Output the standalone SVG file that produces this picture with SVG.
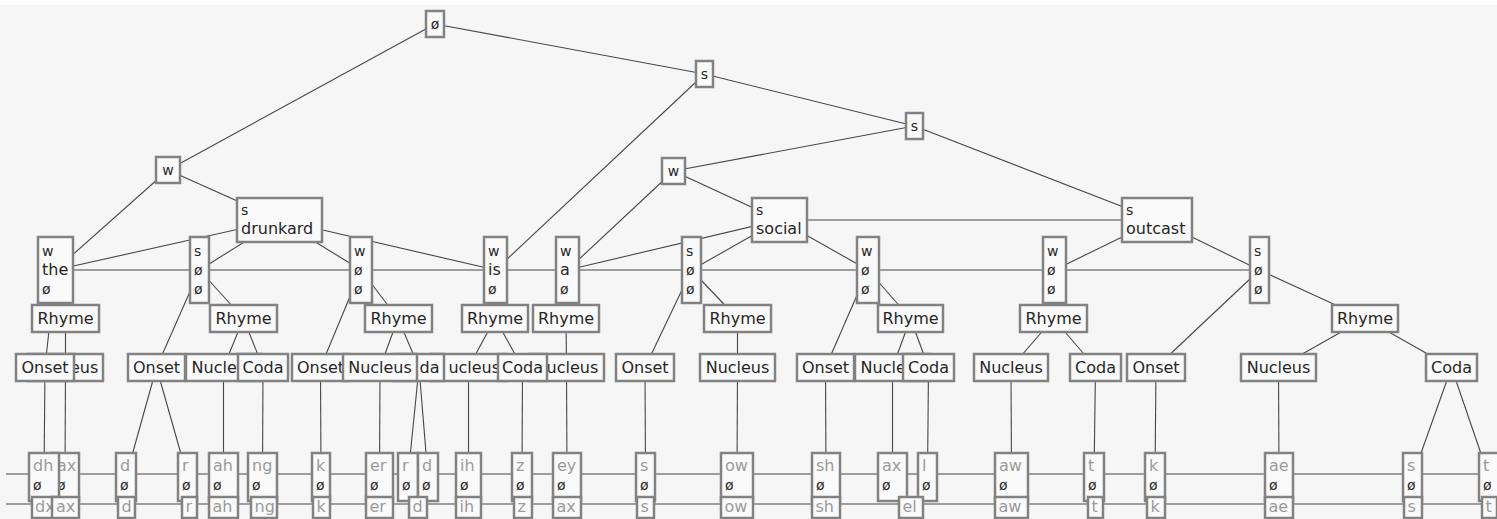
<svg xmlns="http://www.w3.org/2000/svg" width="1497" height="519" viewBox="0 0 1497 519">
<style>
.bx{fill:#fafafa;stroke:#828282;stroke-width:2.5}
.ln{stroke:#474747;stroke-width:1.1;fill:none}
.t{font-family:"DejaVu Sans",sans-serif;font-size:16px;fill:#262626}
.sm{font-size:14px}
.m{text-anchor:middle}
.p{fill:#9a9a9a}
</style>
<rect x="0" y="0" width="1497" height="519" fill="#f6f6f6"/>
<rect x="0" y="0" width="1497" height="5" fill="#ffffff"/>
<g id="connectors" class="ln">
<line x1="435" y1="24" x2="168" y2="170"/>
<line x1="435" y1="24" x2="704.5" y2="74"/>
<line x1="704.5" y1="74" x2="495.5" y2="270"/>
<line x1="704.5" y1="74" x2="914.5" y2="126"/>
<line x1="914.5" y1="126" x2="673.5" y2="171"/>
<line x1="914.5" y1="126" x2="1157" y2="220"/>
<line x1="168" y1="170" x2="55.5" y2="270"/>
<line x1="168" y1="170" x2="279.5" y2="220"/>
<line x1="673.5" y1="171" x2="567.5" y2="270"/>
<line x1="673.5" y1="171" x2="779.5" y2="220"/>
<line x1="55.5" y1="270" x2="279.5" y2="220"/>
<line x1="279.5" y1="220" x2="495.5" y2="270"/>
<line x1="567.5" y1="270" x2="779.5" y2="220"/>
<line x1="779.5" y1="220" x2="1157" y2="220"/>
<line x1="279.5" y1="220" x2="199.5" y2="270"/>
<line x1="279.5" y1="220" x2="361" y2="270"/>
<line x1="779.5" y1="220" x2="691.5" y2="270"/>
<line x1="779.5" y1="220" x2="868" y2="270"/>
<line x1="1157" y1="220" x2="1054.5" y2="270"/>
<line x1="1157" y1="220" x2="1259.5" y2="270"/>
<line x1="55.5" y1="270" x2="1259.5" y2="270"/>
<line x1="55.5" y1="270" x2="45" y2="367.5"/>
<line x1="55.5" y1="270" x2="65.5" y2="318.5"/>
<line x1="199.5" y1="270" x2="156.5" y2="367.5"/>
<line x1="199.5" y1="270" x2="243.5" y2="318.5"/>
<line x1="361" y1="270" x2="320.5" y2="367.5"/>
<line x1="361" y1="270" x2="398" y2="318.5"/>
<line x1="495.5" y1="270" x2="495" y2="318.5"/>
<line x1="567.5" y1="270" x2="566" y2="318.5"/>
<line x1="691.5" y1="270" x2="645" y2="367.5"/>
<line x1="691.5" y1="270" x2="737.5" y2="318.5"/>
<line x1="868" y1="270" x2="825.5" y2="367.5"/>
<line x1="868" y1="270" x2="910.5" y2="318.5"/>
<line x1="1054.5" y1="270" x2="1053.5" y2="318.5"/>
<line x1="1259.5" y1="270" x2="1156" y2="367.5"/>
<line x1="1259.5" y1="270" x2="1365" y2="318.5"/>
<line x1="65.5" y1="318.5" x2="65.5" y2="367.5"/>
<line x1="243.5" y1="318.5" x2="223.5" y2="367.5"/>
<line x1="243.5" y1="318.5" x2="263" y2="367.5"/>
<line x1="398" y1="318.5" x2="380" y2="367.5"/>
<line x1="398" y1="318.5" x2="419" y2="367.5"/>
<line x1="495" y1="318.5" x2="468.5" y2="367.5"/>
<line x1="495" y1="318.5" x2="522.5" y2="367.5"/>
<line x1="566" y1="318.5" x2="566.5" y2="367.5"/>
<line x1="737.5" y1="318.5" x2="737.5" y2="367.5"/>
<line x1="910.5" y1="318.5" x2="892.5" y2="367.5"/>
<line x1="910.5" y1="318.5" x2="928.5" y2="367.5"/>
<line x1="1053.5" y1="318.5" x2="1011" y2="367.5"/>
<line x1="1053.5" y1="318.5" x2="1095.5" y2="367.5"/>
<line x1="1365" y1="318.5" x2="1278.5" y2="367.5"/>
<line x1="1365" y1="318.5" x2="1451.5" y2="367.5"/>
<line x1="45" y1="367.5" x2="44" y2="477"/>
<line x1="65.5" y1="367.5" x2="65" y2="477"/>
<line x1="156.5" y1="367.5" x2="126" y2="477"/>
<line x1="156.5" y1="367.5" x2="187.5" y2="477"/>
<line x1="223.5" y1="367.5" x2="223.5" y2="477"/>
<line x1="263" y1="367.5" x2="262.5" y2="477"/>
<line x1="320.5" y1="367.5" x2="321" y2="477"/>
<line x1="380" y1="367.5" x2="379.5" y2="477"/>
<line x1="419" y1="367.5" x2="408" y2="477"/>
<line x1="419" y1="367.5" x2="428" y2="477"/>
<line x1="468.5" y1="367.5" x2="468.5" y2="477"/>
<line x1="522.5" y1="367.5" x2="522" y2="477"/>
<line x1="566.5" y1="367.5" x2="567" y2="477"/>
<line x1="645" y1="367.5" x2="645.5" y2="477"/>
<line x1="737.5" y1="367.5" x2="737" y2="477"/>
<line x1="825.5" y1="367.5" x2="826" y2="477"/>
<line x1="892.5" y1="367.5" x2="892.5" y2="477"/>
<line x1="928.5" y1="367.5" x2="927.5" y2="477"/>
<line x1="1011" y1="367.5" x2="1011.5" y2="477"/>
<line x1="1095.5" y1="367.5" x2="1094" y2="477"/>
<line x1="1156" y1="367.5" x2="1155" y2="477"/>
<line x1="1278.5" y1="367.5" x2="1279" y2="477"/>
<line x1="1451.5" y1="367.5" x2="1412.5" y2="477"/>
<line x1="1451.5" y1="367.5" x2="1489" y2="477"/>
<line x1="6" y1="474" x2="1497" y2="474"/>
<line x1="6" y1="504" x2="1497" y2="504"/>
</g>
<g id="root"><rect class="bx" x="426" y="11" width="18" height="26"/><text class="t sm m" x="435" y="29">ø</text></g>
<g id="s-top"><rect class="bx" x="696" y="61" width="17" height="26"/><text class="t sm m" x="704.5" y="79">s</text></g>
<g id="s-right"><rect class="bx" x="906" y="113" width="17" height="26"/><text class="t sm m" x="914.5" y="131">s</text></g>
<g id="w-left"><rect class="bx" x="156" y="157" width="24" height="26"/><text class="t sm m" x="168" y="175">w</text></g>
<g id="w-mid"><rect class="bx" x="662" y="158" width="23" height="26"/><text class="t sm m" x="673.5" y="176">w</text></g>
<g id="word-drunkard"><rect class="bx" x="237" y="198" width="85" height="44"/><text class="t sm" x="241" y="215">s</text><text class="t" x="241" y="234">drunkard</text></g>
<g id="word-social"><rect class="bx" x="752" y="198" width="55" height="44"/><text class="t sm" x="756" y="215">s</text><text class="t" x="756" y="234">social</text></g>
<g id="word-outcast"><rect class="bx" x="1122" y="198" width="70" height="44"/><text class="t sm" x="1126" y="215">s</text><text class="t" x="1126" y="234">outcast</text></g>
<g id="syl-the"><rect class="bx" x="38" y="237" width="35" height="66"/><text class="t sm" x="42" y="256">w</text><text class="t" x="42" y="275">the</text><text class="t sm" x="42" y="294">ø</text></g>
<g id="syl-drunk"><rect class="bx" x="190" y="237" width="19" height="66"/><text class="t sm" x="194" y="256">s</text><text class="t sm" x="194" y="275">ø</text><text class="t sm" x="194" y="294">ø</text></g>
<g id="syl-ard"><rect class="bx" x="350" y="237" width="22" height="66"/><text class="t sm" x="354" y="256">w</text><text class="t sm" x="354" y="275">ø</text><text class="t sm" x="354" y="294">ø</text></g>
<g id="syl-is"><rect class="bx" x="484" y="237" width="23" height="66"/><text class="t sm" x="488" y="256">w</text><text class="t" x="488" y="275">is</text><text class="t sm" x="488" y="294">ø</text></g>
<g id="syl-a"><rect class="bx" x="556" y="237" width="23" height="66"/><text class="t sm" x="560" y="256">w</text><text class="t" x="560" y="275">a</text><text class="t sm" x="560" y="294">ø</text></g>
<g id="syl-so"><rect class="bx" x="682" y="237" width="19" height="66"/><text class="t sm" x="686" y="256">s</text><text class="t sm" x="686" y="275">ø</text><text class="t sm" x="686" y="294">ø</text></g>
<g id="syl-cial"><rect class="bx" x="857" y="237" width="22" height="66"/><text class="t sm" x="861" y="256">w</text><text class="t sm" x="861" y="275">ø</text><text class="t sm" x="861" y="294">ø</text></g>
<g id="syl-out"><rect class="bx" x="1043" y="237" width="23" height="66"/><text class="t sm" x="1047" y="256">w</text><text class="t sm" x="1047" y="275">ø</text><text class="t sm" x="1047" y="294">ø</text></g>
<g id="syl-cast"><rect class="bx" x="1250" y="237" width="19" height="66"/><text class="t sm" x="1254" y="256">s</text><text class="t sm" x="1254" y="275">ø</text><text class="t sm" x="1254" y="294">ø</text></g>
<g id="rhyme-the"><rect class="bx" x="32" y="305" width="67" height="27"/><text class="t m" x="65.5" y="324">Rhyme</text></g>
<g id="rhyme-drunk"><rect class="bx" x="210" y="305" width="67" height="27"/><text class="t m" x="243.5" y="324">Rhyme</text></g>
<g id="rhyme-ard"><rect class="bx" x="365" y="305" width="67" height="27"/><text class="t m" x="398.5" y="324">Rhyme</text></g>
<g id="rhyme-is"><rect class="bx" x="462" y="305" width="66" height="27"/><text class="t m" x="495" y="324">Rhyme</text></g>
<g id="rhyme-a"><rect class="bx" x="533" y="305" width="66" height="27"/><text class="t m" x="566" y="324">Rhyme</text></g>
<g id="rhyme-so"><rect class="bx" x="704" y="305" width="67" height="27"/><text class="t m" x="737.5" y="324">Rhyme</text></g>
<g id="rhyme-cial"><rect class="bx" x="878" y="305" width="65" height="27"/><text class="t m" x="910.5" y="324">Rhyme</text></g>
<g id="rhyme-out"><rect class="bx" x="1020" y="305" width="67" height="27"/><text class="t m" x="1053.5" y="324">Rhyme</text></g>
<g id="rhyme-cast"><rect class="bx" x="1332" y="305" width="66" height="27"/><text class="t m" x="1365" y="324">Rhyme</text></g>
<g id="nuc-the"><rect class="bx" x="28" y="354" width="75" height="27"/><text class="t" x="70" y="373">eus</text></g>
<g id="ons-the"><rect class="bx" x="16" y="354" width="58" height="27"/><text class="t m" x="45" y="373">Onset</text></g>
<g id="ons-drunk"><rect class="bx" x="128" y="354" width="57" height="27"/><text class="t m" x="156.5" y="373">Onset</text></g>
<g id="nuc-drunk"><rect class="bx" x="186" y="354" width="75" height="27"/><text class="t" x="191.6" y="373">Nucle</text></g>
<g id="coda-drunk"><rect class="bx" x="238" y="354" width="50" height="27"/><text class="t m" x="263" y="373">Coda</text></g>
<g id="ons-ard"><rect class="bx" x="292" y="354" width="57" height="27"/><text class="t m" x="320.5" y="373">Onset</text></g>
<g id="nuc-a"><rect class="bx" x="529" y="354" width="75" height="27"/><text class="t" x="546.6" y="373">ucleus</text></g>
<g id="nuc-is"><rect class="bx" x="431" y="354" width="75" height="27"/><text class="t" x="448.4" y="373">ucleus</text></g>
<g id="coda-is"><rect class="bx" x="498" y="354" width="49" height="27"/><text class="t m" x="522.5" y="373">Coda</text></g>
<g id="coda-ard"><rect class="bx" x="394" y="354" width="50" height="27"/><text class="t" x="419.5" y="373">da</text></g>
<g id="nuc-ard"><rect class="bx" x="343" y="354" width="74" height="27"/><text class="t m" x="380" y="373">Nucleus</text></g>
<g id="ons-so"><rect class="bx" x="616" y="354" width="58" height="27"/><text class="t m" x="645" y="373">Onset</text></g>
<g id="nuc-so"><rect class="bx" x="700" y="354" width="75" height="27"/><text class="t m" x="737.5" y="373">Nucleus</text></g>
<g id="ons-cial"><rect class="bx" x="797" y="354" width="57" height="27"/><text class="t m" x="825.5" y="373">Onset</text></g>
<g id="nuc-cial"><rect class="bx" x="855" y="354" width="75" height="27"/><text class="t" x="860.6" y="373">Nucle</text></g>
<g id="coda-cial"><rect class="bx" x="903" y="354" width="51" height="27"/><text class="t m" x="928.5" y="373">Coda</text></g>
<g id="nuc-out"><rect class="bx" x="974" y="354" width="74" height="27"/><text class="t m" x="1011" y="373">Nucleus</text></g>
<g id="coda-out"><rect class="bx" x="1070" y="354" width="51" height="27"/><text class="t m" x="1095.5" y="373">Coda</text></g>
<g id="ons-cast"><rect class="bx" x="1127" y="354" width="58" height="27"/><text class="t m" x="1156" y="373">Onset</text></g>
<g id="nuc-cast"><rect class="bx" x="1241" y="354" width="75" height="27"/><text class="t m" x="1278.5" y="373">Nucleus</text></g>
<g id="coda-cast"><rect class="bx" x="1426" y="354" width="51" height="27"/><text class="t m" x="1451.5" y="373">Coda</text></g>
<g id="ph-ax1"><rect class="bx" x="51" y="453" width="28" height="48"/><text class="t p" x="57" y="471">ax</text><text class="t sm" x="57" y="490">ø</text></g>
<g id="ph-dh"><rect class="bx" x="29" y="453" width="30" height="48"/><text class="t p" x="33" y="471">dh</text><text class="t sm" x="33" y="490">ø</text></g>
<g id="ph-d1"><rect class="bx" x="116" y="453" width="20" height="48"/><text class="t p" x="120" y="471">d</text><text class="t sm" x="120" y="490">ø</text></g>
<g id="ph-r1"><rect class="bx" x="178" y="453" width="19" height="48"/><text class="t p" x="182" y="471">r</text><text class="t sm" x="182" y="490">ø</text></g>
<g id="ph-ah"><rect class="bx" x="209" y="453" width="29" height="48"/><text class="t p" x="213" y="471">ah</text><text class="t sm" x="213" y="490">ø</text></g>
<g id="ph-ng"><rect class="bx" x="248" y="453" width="29" height="48"/><text class="t p" x="252" y="471">ng</text><text class="t sm" x="252" y="490">ø</text></g>
<g id="ph-k1"><rect class="bx" x="312" y="453" width="18" height="48"/><text class="t p" x="316" y="471">k</text><text class="t sm" x="316" y="490">ø</text></g>
<g id="ph-er"><rect class="bx" x="366" y="453" width="27" height="48"/><text class="t p" x="370" y="471">er</text><text class="t sm" x="370" y="490">ø</text></g>
<g id="ph-r2"><rect class="bx" x="398" y="453" width="20" height="48"/><text class="t p" x="402" y="471">r</text><text class="t sm" x="402" y="490">ø</text></g>
<g id="ph-d2"><rect class="bx" x="418" y="453" width="20" height="48"/><text class="t p" x="422" y="471">d</text><text class="t sm" x="422" y="490">ø</text></g>
<g id="ph-ih"><rect class="bx" x="456" y="453" width="25" height="48"/><text class="t p" x="460" y="471">ih</text><text class="t sm" x="460" y="490">ø</text></g>
<g id="ph-z"><rect class="bx" x="512" y="453" width="20" height="48"/><text class="t p" x="516" y="471">z</text><text class="t sm" x="516" y="490">ø</text></g>
<g id="ph-ey"><rect class="bx" x="553" y="453" width="28" height="48"/><text class="t p" x="557" y="471">ey</text><text class="t sm" x="557" y="490">ø</text></g>
<g id="ph-s1"><rect class="bx" x="636" y="453" width="19" height="48"/><text class="t p" x="640" y="471">s</text><text class="t sm" x="640" y="490">ø</text></g>
<g id="ph-ow"><rect class="bx" x="721" y="453" width="32" height="48"/><text class="t p" x="725" y="471">ow</text><text class="t sm" x="725" y="490">ø</text></g>
<g id="ph-sh"><rect class="bx" x="812" y="453" width="28" height="48"/><text class="t p" x="816" y="471">sh</text><text class="t sm" x="816" y="490">ø</text></g>
<g id="ph-ax2"><rect class="bx" x="878" y="453" width="29" height="48"/><text class="t p" x="882" y="471">ax</text><text class="t sm" x="882" y="490">ø</text></g>
<g id="ph-l"><rect class="bx" x="918" y="453" width="19" height="48"/><text class="t p" x="922" y="471">l</text><text class="t sm" x="922" y="490">ø</text></g>
<g id="ph-aw"><rect class="bx" x="995" y="453" width="33" height="48"/><text class="t p" x="999" y="471">aw</text><text class="t sm" x="999" y="490">ø</text></g>
<g id="ph-t1"><rect class="bx" x="1084" y="453" width="20" height="48"/><text class="t p" x="1088" y="471">t</text><text class="t sm" x="1088" y="490">ø</text></g>
<g id="ph-k2"><rect class="bx" x="1145" y="453" width="20" height="48"/><text class="t p" x="1149" y="471">k</text><text class="t sm" x="1149" y="490">ø</text></g>
<g id="ph-ae"><rect class="bx" x="1265" y="453" width="28" height="48"/><text class="t p" x="1269" y="471">ae</text><text class="t sm" x="1269" y="490">ø</text></g>
<g id="ph-s2"><rect class="bx" x="1403" y="453" width="19" height="48"/><text class="t p" x="1407" y="471">s</text><text class="t sm" x="1407" y="490">ø</text></g>
<g id="ph-t2"><rect class="bx" x="1479" y="453" width="20" height="48"/><text class="t p" x="1483" y="471">t</text><text class="t sm" x="1483" y="490">ø</text></g>
<g id="sf-dx"><rect class="bx" x="32" y="497" width="28" height="21"/><text class="t p" x="35" y="512">dx</text></g>
<g id="sf-ax1"><rect class="bx" x="52" y="497" width="27" height="21"/><text class="t p" x="56" y="512">ax</text></g>
<g id="sf-d1"><rect class="bx" x="118" y="497" width="17" height="21"/><text class="t p" x="121.5" y="512">d</text></g>
<g id="sf-r"><rect class="bx" x="182" y="497" width="15" height="21"/><text class="t p" x="185.5" y="512">r</text></g>
<g id="sf-ah"><rect class="bx" x="209" y="497" width="29" height="21"/><text class="t p" x="212.5" y="512">ah</text></g>
<g id="sf-ng"><rect class="bx" x="251" y="497" width="26" height="21"/><text class="t p" x="254.5" y="512">ng</text></g>
<g id="sf-k1"><rect class="bx" x="313" y="497" width="17" height="21"/><text class="t p" x="316.5" y="512">k</text></g>
<g id="sf-er"><rect class="bx" x="366" y="497" width="27" height="21"/><text class="t p" x="369.5" y="512">er</text></g>
<g id="sf-d2"><rect class="bx" x="409" y="497" width="18" height="21"/><text class="t p" x="412.5" y="512">d</text></g>
<g id="sf-ih"><rect class="bx" x="456" y="497" width="25" height="21"/><text class="t p" x="459.5" y="512">ih</text></g>
<g id="sf-z"><rect class="bx" x="514" y="497" width="18" height="21"/><text class="t p" x="517.5" y="512">z</text></g>
<g id="sf-ax2"><rect class="bx" x="553" y="497" width="28" height="21"/><text class="t p" x="556.5" y="512">ax</text></g>
<g id="sf-s1"><rect class="bx" x="637" y="497" width="17" height="21"/><text class="t p" x="640.5" y="512">s</text></g>
<g id="sf-ow"><rect class="bx" x="721" y="497" width="32" height="21"/><text class="t p" x="724.5" y="512">ow</text></g>
<g id="sf-sh"><rect class="bx" x="812" y="497" width="28" height="21"/><text class="t p" x="815.5" y="512">sh</text></g>
<g id="sf-el"><rect class="bx" x="899" y="497" width="24" height="21"/><text class="t p" x="902.5" y="512">el</text></g>
<g id="sf-aw"><rect class="bx" x="995" y="497" width="33" height="21"/><text class="t p" x="998.5" y="512">aw</text></g>
<g id="sf-t1"><rect class="bx" x="1088" y="497" width="15" height="21"/><text class="t p" x="1091.5" y="512">t</text></g>
<g id="sf-k2"><rect class="bx" x="1147" y="497" width="18" height="21"/><text class="t p" x="1150.5" y="512">k</text></g>
<g id="sf-ae"><rect class="bx" x="1265" y="497" width="28" height="21"/><text class="t p" x="1268.5" y="512">ae</text></g>
<g id="sf-s2"><rect class="bx" x="1404" y="497" width="18" height="21"/><text class="t p" x="1407.5" y="512">s</text></g>
<g id="sf-t2"><rect class="bx" x="1482" y="497" width="15" height="21"/><text class="t p" x="1485.5" y="512">t</text></g>
</svg>
